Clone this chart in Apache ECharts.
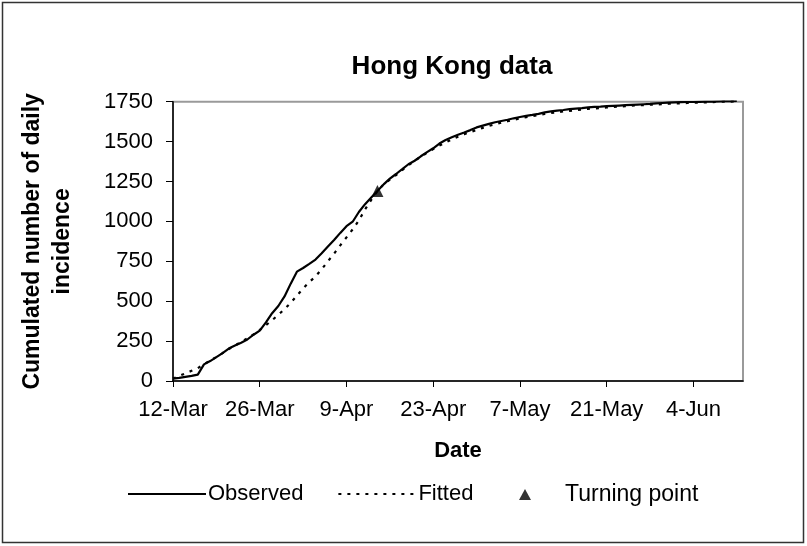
<!DOCTYPE html>
<html>
<head>
<meta charset="utf-8">
<style>
  html, body { margin: 0; padding: 0; background: #fff; }
  #chart { width: 807px; height: 546px; }
</style>
<script src="https://cdn.jsdelivr.net/npm/echarts@6/dist/echarts.min.js"></script>
</head>
<body>
<div id="chart"></div>
<script>
// Tick labels on the date axis (one every 14 days from 12 March)
const dateTicks = ['12-Mar', '26-Mar', '9-Apr', '23-Apr', '7-May', '21-May', '4-Jun'];
const tickStepDays = 14;
const yTicks = [0, 250, 500, 750, 1000, 1250, 1500, 1750];

// Cumulated daily incidence, one value per day starting 12 March
const observed = [
  15, 20, 26, 32, 40, 104, 125, 150, 175, 203,
  222, 240, 260, 290, 316, 367, 425, 470, 530, 610,
  685, 708, 734, 761, 800, 842, 883, 928, 970, 998,
  1059, 1108, 1150, 1190, 1232, 1268, 1297, 1327, 1358, 1380,
  1408, 1434, 1458, 1488, 1510, 1527, 1543, 1557, 1572, 1589,
  1600, 1611, 1621, 1629, 1637, 1646, 1654, 1661, 1667, 1674,
  1683, 1689, 1694, 1698, 1703, 1707, 1710, 1714, 1718, 1719,
  1722, 1724, 1726, 1728, 1730, 1732, 1734, 1736, 1739, 1742,
  1744, 1746, 1747, 1748, 1748, 1749, 1750, 1751, 1752, 1753,
  1754, 1755
];

// Model fit, same days
const fitted = [
  15, 32, 48, 64, 80, 105, 128, 150, 175, 200,
  222, 245, 268, 292, 320, 350, 381, 415, 450, 490,
  535, 580, 620, 655, 700, 750, 798, 850, 900, 950,
  1006, 1075, 1135, 1190, 1232, 1262, 1290, 1322, 1352, 1380,
  1405, 1430, 1453, 1475, 1495, 1514, 1531, 1546, 1560, 1573,
  1586, 1598, 1609, 1619, 1628, 1637, 1645, 1653, 1660, 1667,
  1673, 1679, 1684, 1689, 1693, 1697, 1701, 1705, 1708, 1711,
  1714, 1717, 1720, 1722, 1725, 1727, 1729, 1731, 1733, 1735,
  1737, 1739, 1740, 1742, 1743, 1745, 1746, 1747, 1749, 1750,
  1751, 1752
];

// Turning point: [day offset, cumulated count]
const turningPoint = [33, 1190];

const FONT = "'Liberation Sans', Arial, sans-serif";
const TEXT = { fontFamily: FONT, fontSize: 22, color: '#000' };

const chart = echarts.init(document.getElementById('chart'), null, { renderer: 'canvas' });

chart.setOption({
  backgroundColor: '#ffffff',
  animation: false,
  title: {
    text: 'Hong Kong data',
    left: 447,
    top: 49,
    textAlign: 'center',
    textStyle: { fontFamily: FONT, fontSize: 26, fontWeight: 'bold', color: '#000' }
  },
  grid: {
    left: 173, right: 64, top: 101.7, bottom: 165,
    show: true,
    borderColor: '#9a9a9a',
    borderWidth: 2,
    backgroundColor: '#fff'
  },
  legend: [
    {
      data: ['Observed', 'Fitted'],
      left: 122,
      top: 478,
      itemWidth: 78,
      itemHeight: 14,
      itemGap: 34,
      itemStyle: { opacity: 0 },
      textStyle: Object.assign({}, TEXT, { padding: [0, 0, 0, -3] })
    },
    {
      data: ['Turning point'],
      left: 514,
      top: 478,
      itemWidth: 12,
      itemHeight: 11,
      textStyle: Object.assign({}, TEXT, { fontSize: 23, padding: [0, 0, 0, 29] })
    }
  ],
  xAxis: {
    type: 'value',
    min: 0,
    max: 92,
    interval: tickStepDays,
    name: 'Date',
    nameLocation: 'middle',
    nameGap: 59,
    nameTextStyle: { fontFamily: FONT, fontSize: 22, fontWeight: 'bold', color: '#000' },
    splitLine: { show: false },
    axisLine: { lineStyle: { color: '#000', width: 1.5 } },
    axisTick: { show: true, length: 6, lineStyle: { color: '#000', width: 1 } },
    axisLabel: {
      ...TEXT, margin: 18,
      showMaxLabel: false,
      formatter: function (v) {
        const i = v / tickStepDays;
        return Number.isInteger(i) && i < dateTicks.length ? dateTicks[i] : '';
      }
    }
  },
  yAxis: {
    type: 'value',
    min: yTicks[0],
    max: yTicks[yTicks.length - 1],
    interval: yTicks[1] - yTicks[0],
    name: 'Cumulated number of daily\nincidence',
    nameLocation: 'middle',
    nameRotate: 90,
    nameGap: 95,
    nameTextStyle: { fontFamily: FONT, fontSize: 23, fontWeight: 'bold', color: '#000', lineHeight: 30 },
    splitLine: { show: false },
    axisLine: { show: true, lineStyle: { color: '#000', width: 1.5 } },
    axisTick: { show: true, length: 7, lineStyle: { color: '#000', width: 1 } },
    axisLabel: { ...TEXT, margin: 20, formatter: function (v) { return String(v); } }
  },
  series: [
    {
      name: 'Observed',
      type: 'line',
      data: observed.map((v, i) => [i, v]),
      showSymbol: false,
      symbol: 'none',
      lineStyle: { color: '#000', width: 2.2 },
      itemStyle: { color: '#000' },
      z: 3
    },
    {
      name: 'Fitted',
      type: 'line',
      data: fitted.map((v, i) => [i, v]),
      showSymbol: false,
      symbol: 'none',
      lineStyle: { color: '#000', width: 2.2, type: [3, 6] },
      itemStyle: { color: '#000' },
      z: 2
    },
    {
      name: 'Turning point',
      type: 'scatter',
      data: [turningPoint],
      symbol: 'triangle',
      symbolSize: 12,
      itemStyle: { color: '#000' },
      z: 4
    }
  ],
  graphic: [
    {
      type: 'rect',
      shape: { x: 2.5, y: 2.5, width: 801, height: 540 },
      style: { fill: null, stroke: '#333', lineWidth: 1.5 },
      silent: true,
      z: 100
    }
  ]
});
</script>
</body>
</html>
